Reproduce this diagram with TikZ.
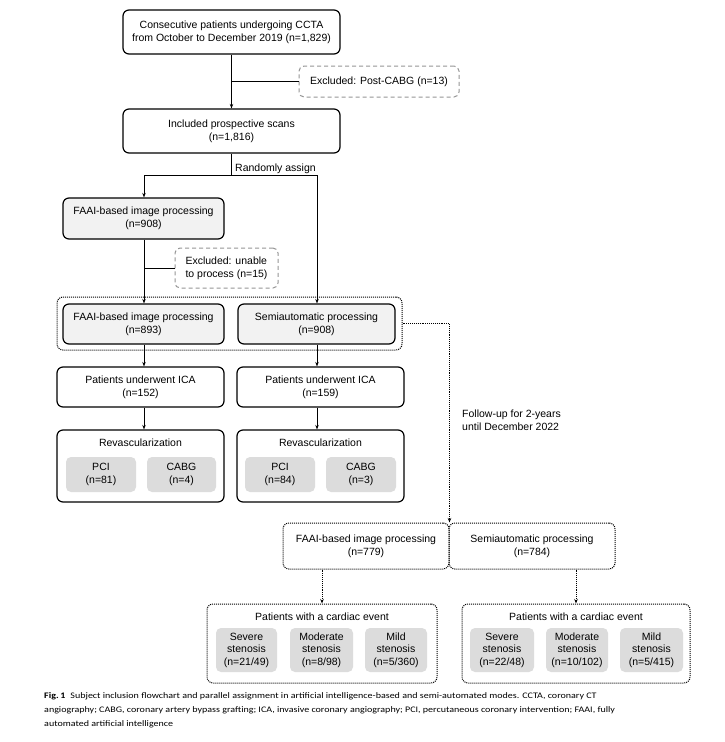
\documentclass[tikz,border=0pt]{standalone}
\usepackage{fontspec}
\setmainfont{Liberation Sans}
\newfontfamily\capfont{Carlito}
\usetikzlibrary{arrows.meta,calc}
\definecolor{shadefill}{RGB}{242,242,242}
\definecolor{innerfill}{RGB}{220,220,220}
\definecolor{dashgray}{RGB}{150,150,150}
\begin{document}
\begin{tikzpicture}[x=1pt,y=-1pt,
  font=\fontsize{10.5}{13}\selectfont,
  box/.style={draw=black, line width=1.2pt, rounded corners=6pt, align=center, inner sep=0pt, fill=white},
  shaded/.style={box, fill=shadefill},
  excl/.style={draw=dashgray, dash pattern=on 4pt off 3pt, line width=1pt, rounded corners=5pt, align=left, inner sep=0pt},
  dotbox/.style={draw=black, line width=1pt, densely dotted, rounded corners=6pt, align=center, inner sep=0pt},
  innerbox/.style={fill=innerfill, rounded corners=5pt, align=center, inner sep=0pt},
  arr/.style={-{Stealth[length=4.5pt,width=3.5pt]}, line width=0.8pt},
  ln/.style={line width=0.8pt},
  darr/.style={-{Stealth[length=4.5pt,width=3.5pt]}, line width=0.9pt, densely dotted},
  small3/.style={font=\fontsize{10.5}{12.5}\selectfont},
]
\useasboundingbox (0,0) rectangle (725,742);
\fill[white] (0,0) rectangle (725,742);

% top part
\node[box, minimum width=217pt, minimum height=44pt] (top) at (231.5,32) {Consecutive patients undergoing CCTA\\from October to December 2019 (n=1,829)};
\node[excl, minimum width=160pt, minimum height=31pt] (ex1) at (379,81.5) {Excluded: Post-CABG (n=13)};
\node[box, minimum width=217pt, minimum height=44pt] (incl) at (231.5,131) {Included prospective scans\\(n=1,816)};

\coordinate (rj) at (231.5,175);
\coordinate (rl) at (144,175);
\coordinate (rr) at (317,175);
\node[anchor=base west, inner sep=0pt] (rand) at (235,171) {Randomly assign};

\node[shaded, minimum width=161pt, minimum height=41pt] (faai908) at (143.5,218.5) {FAAI-based image processing\\(n=908)};
\node[excl, minimum width=103pt, minimum height=40pt] (ex2) at (226.5,268) {Excluded: unable\\to process (n=15)};

\node[dotbox, minimum width=345pt, minimum height=53pt] (outer) at (229.5,323.5) {};
\node[shaded, minimum width=161pt, minimum height=40pt] (faai893) at (143.5,324) {FAAI-based image processing\\(n=893)};
\node[shaded, minimum width=157pt, minimum height=40pt] (semi908) at (316.5,324) {Semiautomatic processing\\(n=908)};

\node[box, minimum width=167pt, minimum height=40pt] (ica1) at (140.5,387) {Patients underwent ICA\\(n=152)};
\node[box, minimum width=167pt, minimum height=40pt] (ica2) at (320.5,387) {Patients underwent ICA\\(n=159)};

\node[box, minimum width=167pt, minimum height=72pt] (rev1) at (140.5,466) {};
\node[box, minimum width=167pt, minimum height=72pt] (rev2) at (320.5,466) {};
\node[inner sep=0pt] (rev1t) at (140.5,443) {Revascularization};
\node[inner sep=0pt] (rev2t) at (320.5,443) {Revascularization};
\node[innerbox, minimum width=70pt, minimum height=35pt] (pci1) at (101,474.5) {PCI\\(n=81)};
\node[innerbox, minimum width=69pt, minimum height=35pt] (cabg1) at (181.5,474.5) {CABG\\(n=4)};
\node[innerbox, minimum width=70pt, minimum height=35pt] (pci2) at (280,474.5) {PCI\\(n=84)};
\node[innerbox, minimum width=70pt, minimum height=35pt] (cabg2) at (361,474.5) {CABG\\(n=3)};

\node[anchor=west, align=left, inner sep=0pt] (follow) at (462,420) {Follow-up for 2-years\\until December 2022};

% lower part
\node[dotbox, minimum width=166pt, minimum height=46pt] (f779) at (366,546) {FAAI-based image processing\\(n=779)};
\node[dotbox, minimum width=166pt, minimum height=46pt] (s784) at (532,546) {Semiautomatic processing\\(n=784)};

\node[dotbox, minimum width=230pt, minimum height=79pt] (ev1) at (322,643.5) {};
\node[inner sep=0pt] (ev1t) at (322,617) {Patients with a cardiac event};
\node[innerbox, small3, minimum width=61pt, minimum height=44pt] (sev1) at (246.5,650) {Severe\\stenosis\\(n=21/49)};
\node[innerbox, small3, minimum width=63pt, minimum height=44pt] (mod1) at (321.5,650) {Moderate\\stenosis\\(n=8/98)};
\node[innerbox, small3, minimum width=62pt, minimum height=44pt] (mild1) at (396,650) {Mild\\stenosis\\(n=5/360)};

\node[dotbox, minimum width=228pt, minimum height=79pt] (ev2) at (576,643.5) {};
\node[inner sep=0pt] (ev2t) at (576,617) {Patients with a cardiac event};
\node[innerbox, small3, minimum width=64pt, minimum height=44pt] (sev2) at (502,650) {Severe\\stenosis\\(n=22/48)};
\node[innerbox, small3, minimum width=62pt, minimum height=44pt] (mod2) at (577,650) {Moderate\\stenosis\\(n=10/102)};
\node[innerbox, small3, minimum width=63pt, minimum height=44pt] (mild2) at (651.5,650) {Mild\\stenosis\\(n=5/415)};

% connectors
\draw[arr] (top.south) -- (incl.north);
\draw[ln] (top.south |- ex1.west) -- (ex1.west);
\draw[ln] (incl.south) -- (rj);
\draw[arr] (rj) -- (rl) -- (rl |- faai908.north);
\draw[arr] (rj) -- (rr) -- (rr |- semi908.north);
\draw[arr] (rl |- faai908.south) -- (rl |- faai893.north);
\draw[ln] (rl |- ex2.west) -- (ex2.west);
\draw[arr] (rl |- faai893.south) -- (rl |- ica1.north);
\draw[arr] (rl |- ica1.south) -- (rl |- rev1.north);
\draw[arr] (rr |- semi908.south) -- (rr |- ica2.north);
\draw[arr] (rr |- ica2.south) -- (rr |- rev2.north);

\draw[darr] (outer.east) -- (outer.east -| f779.north east) -- (f779.north east);
\draw[darr] (f779.south -| ev1.north) -- (ev1.north);
\draw[darr] (s784.south -| ev2.north) -- (ev2.north);

% caption
\node[anchor=north west, inner sep=0pt] (cap) at (44,688) {\scalebox{1.18}[1]{\capfont\fontsize{8.5}{14}\selectfont
\begin{tabular}{@{}l@{}}\textbf{Fig.\,1}\enspace Subject inclusion flowchart and parallel assignment in artificial intelligence-based and semi-automated modes. CCTA, coronary CT\\angiography; CABG, coronary artery bypass grafting; ICA, invasive coronary angiography; PCI, percutaneous coronary intervention; FAAI, fully\\automated artificial intelligence\end{tabular}}};
\end{tikzpicture}
\end{document}
